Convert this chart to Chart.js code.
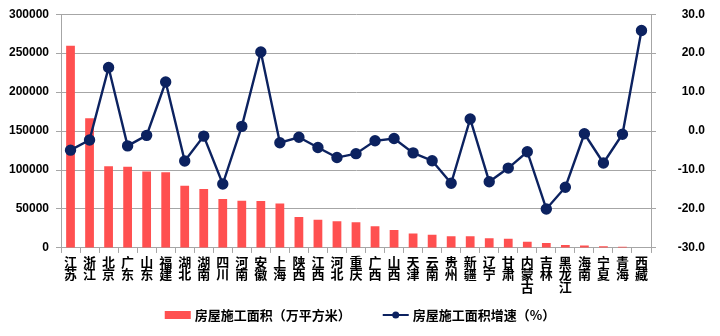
<!DOCTYPE html>
<html>
<head>
<meta charset="utf-8">
<script src="https://cdn.jsdelivr.net/npm/chart.js@4"></script>
<style>
  html, body { margin: 0; padding: 0; background: #fff; }
  #wrap { width: 720px; height: 336px; }
</style>
</head>
<body>
<div id="wrap"><canvas id="chart" width="720" height="336"></canvas></div>
<script>
// 各地区房屋施工面积及增速
const provinces = ["江苏", "浙江", "北京", "广东", "山东", "福建", "湖北", "湖南", "四川", "河南", "安徽", "上海", "陕西", "江西", "河北", "重庆", "广西", "山西", "天津", "云南", "贵州", "新疆", "辽宁", "甘肃", "内蒙古", "吉林", "黑龙江", "海南", "宁夏", "青海", "西藏"];
const area = [259500, 166500, 105000, 104300, 98000, 97000, 79800, 75600, 62700, 60500, 60300, 57000, 39800, 36300, 34200, 32900, 27700, 22900, 18600, 16800, 15100, 15000, 12600, 11700, 7800, 6500, 3900, 3100, 2200, 1700, 600];
const growth = [-4.9, -2.3, 16.3, -3.8, -1.1, 12.6, -7.7, -1.3, -13.6, 1.2, 20.3, -3.0, -1.6, -4.2, -6.8, -5.8, -2.5, -1.9, -5.6, -7.6, -13.4, 3.1, -13.0, -9.5, -5.3, -20.0, -14.4, -0.7, -8.2, -0.8, 25.8];

const barColor = "#ff5050";
const lineColor = "#0c2260";
const gridColor = "#a6a6a6";
const numFont = { family: "'Liberation Sans', Arial, sans-serif", size: 12, weight: "bold" };
const cjkFont = "'Noto Sans CJK SC', 'Noto Sans', sans-serif";

// legend drawn by hand: bar swatch, then line-with-dot swatch, centred under the chart
const bottomLegend = {
  id: "bottomLegend",
  afterDraw(chart) {
    const ctx = chart.ctx;
    const [lineDs, barDs] = chart.data.datasets;
    const y = 315;
    const sw = 26, gapText = 4, gapItem = 32;
    ctx.save();
    ctx.font = "bold 13px " + cjkFont;
    ctx.textBaseline = "middle";
    ctx.fillStyle = "#000";
    const w1 = ctx.measureText(barDs.label).width;
    const w2 = ctx.measureText(lineDs.label).width;
    const total = sw + gapText + w1 + gapItem + sw + gapText + w2;
    let x = chart.width / 2 - total / 2;

    ctx.fillStyle = barColor;
    ctx.fillRect(x, y - 4, sw, 8);
    x += sw + gapText;
    ctx.fillStyle = "#000";
    ctx.fillText(barDs.label, x, y);
    x += w1 + gapItem;

    ctx.strokeStyle = lineColor;
    ctx.lineWidth = 2;
    ctx.beginPath();
    ctx.moveTo(x, y);
    ctx.lineTo(x + sw, y);
    ctx.stroke();
    ctx.fillStyle = lineColor;
    ctx.beginPath();
    ctx.arc(x + sw / 2, y, 3.5, 0, Math.PI * 2);
    ctx.fill();
    x += sw + gapText;
    ctx.fillStyle = "#000";
    ctx.fillText(lineDs.label, x, y);
    ctx.restore();
  },
};

new Chart(document.getElementById("chart"), {
  data: {
    labels: provinces.map((p) => p.split("")),
    datasets: [
      {
        type: "line",
        label: "房屋施工面积增速（%）",
        data: growth,
        yAxisID: "y1",
        borderColor: lineColor,
        backgroundColor: lineColor,
        borderWidth: 2.4,
        pointRadius: 4.5,
        pointBackgroundColor: lineColor,
        pointBorderColor: lineColor,
        tension: 0,
        order: 0,
      },
      {
        type: "bar",
        label: "房屋施工面积（万平方米）",
        data: area,
        yAxisID: "y",
        backgroundColor: barColor,
        barPercentage: 0.5,
        categoryPercentage: 0.92,
        order: 1,
      },
    ],
  },
  options: {
    responsive: false,
    animation: false,
    layout: { padding: { top: 8, right: 15, bottom: 40, left: 0 } },
    plugins: {
      tooltip: { enabled: false },
      legend: { display: false },
    },
    scales: {
      x: {
        offset: true,
        grid: { display: true, drawOnChartArea: false, offset: true, color: gridColor, tickLength: 5 },
        border: { color: gridColor },
        ticks: {
          color: "#000",
          maxRotation: 0,
          autoSkip: false,
          padding: 3,
          font: { family: cjkFont, size: 13, weight: "bold", lineHeight: 0.95 },
        },
      },
      y: {
        position: "left",
        min: 0,
        max: 300000,
        afterFit(scale) { scale.width = 61; },
        ticks: { stepSize: 50000, color: "#000", padding: 7, font: numFont, callback: (v) => String(v) },
        grid: { color: gridColor, tickLength: 5 },
        border: { color: gridColor },
      },
      y1: {
        position: "right",
        min: -30,
        max: 30,
        afterFit(scale) { scale.width = 54; },
        ticks: {
          stepSize: 10,
          color: "#000",
          crossAlign: "far",
          font: numFont,
          callback: (v) => Number(v).toFixed(1),
        },
        grid: { drawOnChartArea: false, color: gridColor, tickLength: 5 },
        border: { color: gridColor },
      },
    },
  },
  plugins: [bottomLegend],
});
</script>
</body>
</html>
